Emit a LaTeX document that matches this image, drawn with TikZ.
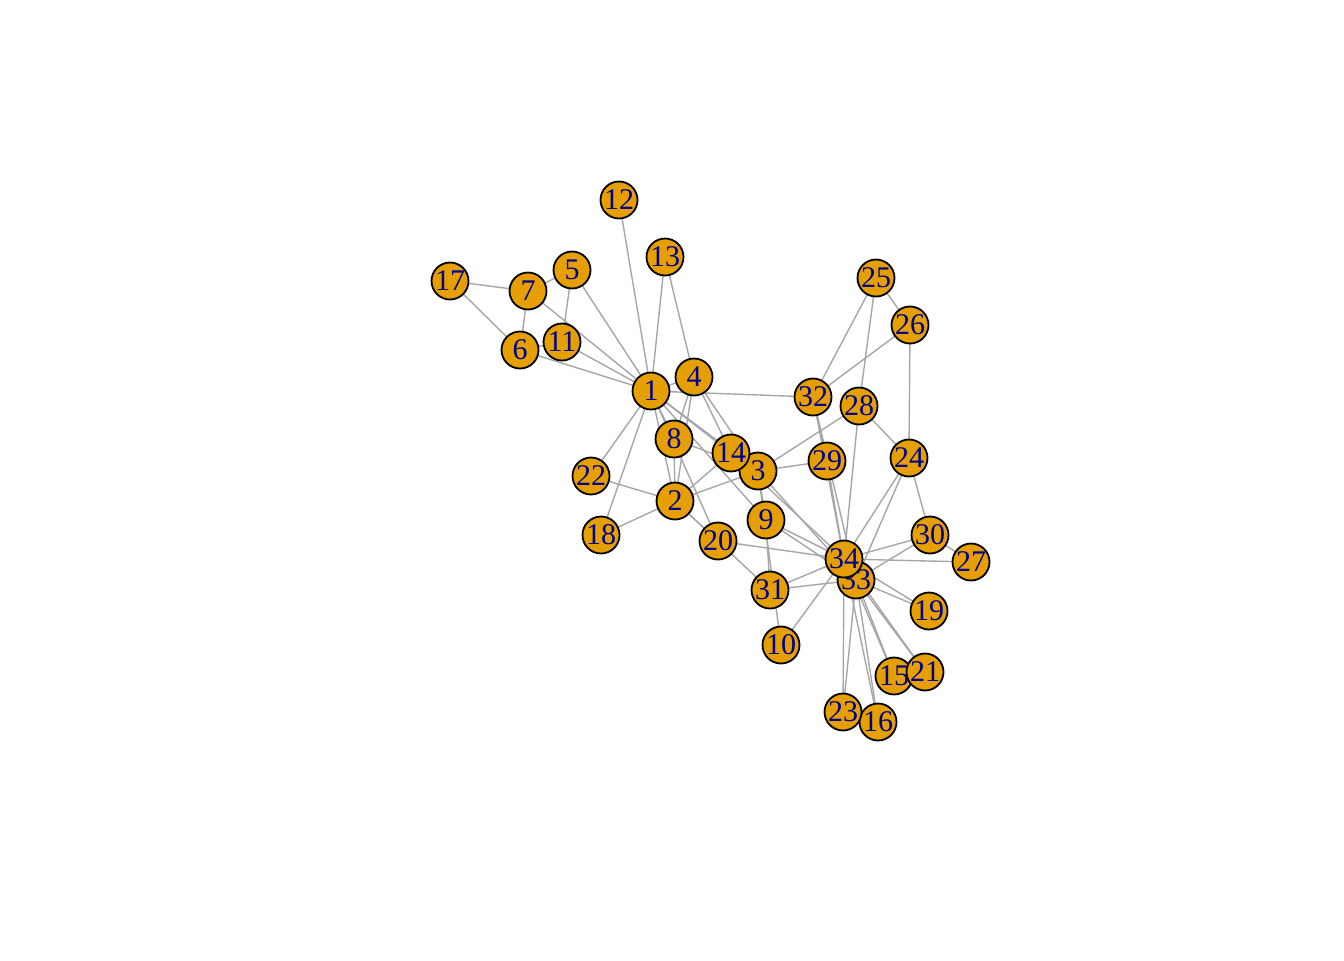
\documentclass[tikz,border=0pt]{standalone}
\usepackage{fontspec}
\setmainfont{Liberation Serif}
\usetikzlibrary{backgrounds}
\definecolor{vfill}{HTML}{E69F00}
\definecolor{vlabel}{HTML}{00008B}
\definecolor{egray}{HTML}{A6A6A6}
\tikzset{
  vert/.style={circle,draw=black,line width=0.9pt,fill=vfill,text=vlabel,
    minimum size=18.5pt,inner sep=0pt,font=\fontsize{15}{15}\selectfont},
  edge/.style={draw=egray,line width=0.7pt}
}
\begin{document}
\begin{tikzpicture}[line cap=round,line join=round,x=0.5pt,y=-0.5pt]
\useasboundingbox (0,0) rectangle (1344,960);
% vertices
\foreach \n/\px/\py in {1/651/391,2/675/501,3/758/471,4/694/377,5/572/270,6/520/350,
  7/528/291,8/674/439,9/766/520,10/781/645,11/562/342,12/619/200,13/665/257,
  14/731/453,15/894/676,16/878/722,17/450/281,18/601/535,19/929/611,20/718/541,
  21/925/672,22/591/476,23/843/712,24/909/458,25/876/278,26/910/325,27/971/562,
  28/859/406,29/827/461,30/930/535,31/770/590,32/813/397,33/856/580,34/844/559}
  \node[vert] (v\n) at (\px,\py) {\n};
% edges
\begin{pgfonlayer}{background}
\foreach \a/\b in {1/2,1/3,1/4,1/5,1/6,1/7,1/8,1/9,1/11,1/12,1/13,1/14,1/18,1/20,1/22,1/32,
  2/3,2/4,2/8,2/14,2/18,2/20,2/22,2/31,
  3/4,3/8,3/9,3/10,3/14,3/28,3/29,3/33,
  4/8,4/13,4/14,5/7,5/11,6/7,6/11,6/17,7/17,
  9/31,9/33,9/34,10/34,14/34,15/33,15/34,16/33,16/34,19/33,19/34,
  20/34,21/33,21/34,23/33,23/34,
  24/26,24/28,24/30,24/33,24/34,25/26,25/28,25/32,26/32,
  27/30,27/34,28/34,29/32,29/34,30/33,30/34,31/33,31/34,32/33,32/34,33/34}
  \draw[edge] (v\a.center) -- (v\b.center);
\end{pgfonlayer}
\end{tikzpicture}
\end{document}
